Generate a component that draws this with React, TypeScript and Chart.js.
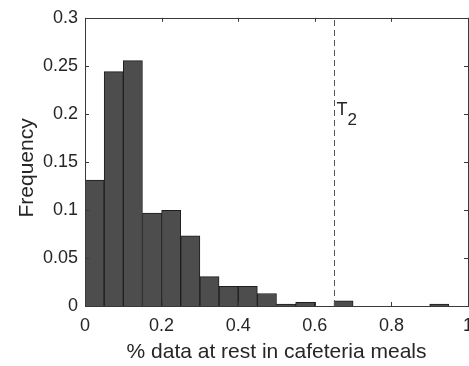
import React, { useEffect, useRef } from "react";
import { Chart, registerables } from "chart.js";

Chart.register(...registerables);

// Histogram bin centres (bin width 0.05) and frequencies
const binCenters = [0.025, 0.075, 0.125, 0.175, 0.225, 0.275, 0.325, 0.375, 0.425, 0.475, 0.525, 0.575, 0.625, 0.675, 0.725, 0.775, 0.825, 0.875, 0.925, 0.975];
const frequencies = [0.131, 0.244, 0.2555, 0.0966, 0.0997, 0.073, 0.0305, 0.0206, 0.0206, 0.013, 0.002, 0.0038, 0, 0.0055, 0, 0, 0, 0, 0.002, 0];
const thresholdX = 0.65;
const thresholdLabel = "T";
const thresholdSub = "2";
const xTitle = "% data at rest in cafeteria meals";
const yTitle = "Frequency";
const yTicks = [0, 0.05, 0.1, 0.15, 0.2, 0.25, 0.3];
const xTicks = [0, 0.2, 0.4, 0.6, 0.8, 1];

const FONT = "'Liberation Sans', Arial, Helvetica, sans-serif";
const TEXT = "#262626";

export default function App() {
  const ref = useRef<HTMLCanvasElement>(null);
  useEffect(() => {
    document.body.style.margin = "0";
    const canvas = ref.current!;
    const data = binCenters
      .map((x, i) => ({ x, y: frequencies[i] }))
      .filter((p) => p.y > 0);

    const overlay = {
      id: "overlay",
      afterDraw(chart: any) {
        const { ctx, chartArea: a, scales } = chart;
        const xs = scales.x;
        const ys = scales.y;
        ctx.save();
        // dashed threshold line
        const tx = Math.round(xs.getPixelForValue(thresholdX)) + 0.5;
        ctx.strokeStyle = "#555";
        ctx.lineWidth = 1;
        ctx.setLineDash([6, 4]);
        ctx.beginPath();
        ctx.moveTo(tx, a.bottom);
        ctx.lineTo(tx, a.top);
        ctx.stroke();
        ctx.setLineDash([]);
        // frame
        ctx.strokeStyle = "#3a3a3a";
        ctx.strokeRect(Math.round(a.left) + 0.5, Math.round(a.top) + 0.5, Math.round(a.right - a.left), Math.round(a.bottom - a.top));
        // inner ticks
        const tl = 4;
        ctx.beginPath();
        yTicks.forEach((v) => {
          const y = Math.round(ys.getPixelForValue(v)) + 0.5;
          ctx.moveTo(a.left, y); ctx.lineTo(a.left + tl, y);
          ctx.moveTo(a.right, y); ctx.lineTo(a.right - tl, y);
        });
        xTicks.forEach((v) => {
          const x = Math.round(xs.getPixelForValue(v)) + 0.5;
          ctx.moveTo(x, a.bottom); ctx.lineTo(x, a.bottom - tl);
          ctx.moveTo(x, a.top); ctx.lineTo(x, a.top + tl);
        });
        ctx.stroke();
        // threshold label
        ctx.fillStyle = TEXT;
        ctx.textBaseline = "alphabetic";
        ctx.textAlign = "left";
        ctx.font = `18px ${FONT}`;
        ctx.fillText(thresholdLabel, tx + 2, 115);
        ctx.font = `17px ${FONT}`;
        ctx.fillText(thresholdSub, tx + 13, 125);
        // axis titles
        ctx.font = `21px ${FONT}`;
        ctx.textAlign = "center";
        ctx.fillText(xTitle, (a.left + a.right) / 2, 358);
        ctx.save();
        ctx.translate(33, (a.top + a.bottom) / 2 + 6);
        ctx.rotate(-Math.PI / 2);
        ctx.fillText(yTitle, 0, 0);
        ctx.restore();
        ctx.restore();
      },
    };

    const chart = new Chart(canvas, {
      type: "bar",
      data: {
        datasets: [
          {
            data: data as any,
            backgroundColor: "#4d4d4d",
            borderColor: "#1e1e1e",
            borderWidth: 1,
            barPercentage: 1,
            categoryPercentage: 1,
          },
        ],
      },
      options: {
        animation: false,
        responsive: false,
        devicePixelRatio: 1,
        layout: { padding: { top: 14, right: 1, left: 0, bottom: 0 } },
        plugins: { legend: { display: false }, tooltip: { enabled: false } },
        scales: {
          x: {
            type: "linear",
            min: 0,
            max: 1,
            offset: false,
            grid: { display: false, drawTicks: false },
            border: { display: false },
            afterFit: (s: any) => { s.height = 60; s.paddingRight = 0; s.paddingLeft = 0; },
            afterBuildTicks: (s: any) => { s.ticks = xTicks.map((v) => ({ value: v })); },
            ticks: {
              padding: 9,
              color: TEXT,
              font: { family: FONT, size: 18 },
              maxRotation: 0,
              callback: (v: any) => String(Number(Number(v).toFixed(2))),
            },
          },
          y: {
            min: 0,
            max: 0.3,
            grid: { display: false, drawTicks: false },
            border: { display: false },
            afterFit: (s: any) => { s.width = 85; },
            afterBuildTicks: (s: any) => { s.ticks = yTicks.map((v) => ({ value: v })); },
            ticks: {
              padding: 7,
              color: TEXT,
              font: { family: FONT, size: 18 },
              callback: (v: any) => String(Number(Number(v).toFixed(2))),
            },
          },
        },
      },
      plugins: [overlay],
    } as any);
    return () => chart.destroy();
  }, []);
  return (
    <div style={{ position: "relative", width: 469, height: 366 }}>
      <canvas ref={ref} width={469} height={366} style={{ display: "block" }} />
    </div>
  );
}
